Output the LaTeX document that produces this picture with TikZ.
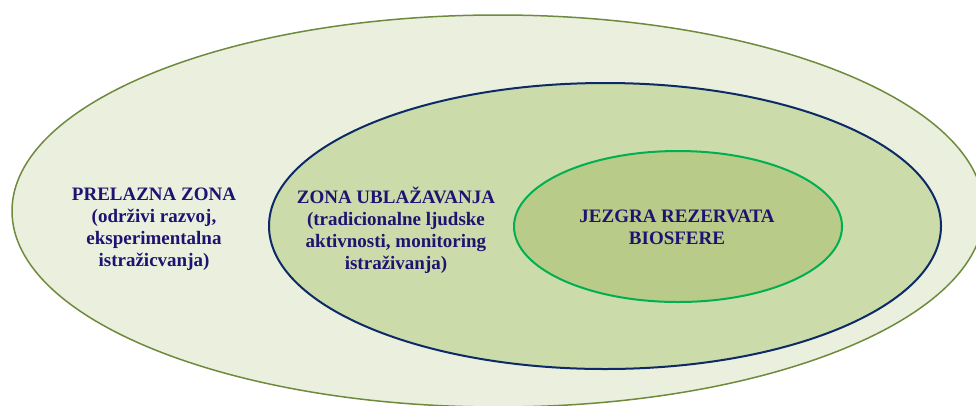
\documentclass[tikz,border=0pt]{standalone}
\usepackage{fontspec}
\setmainfont{Liberation Serif}
\usepackage{tikz}
\usetikzlibrary{positioning}
\usetikzlibrary{shapes.geometric}
\definecolor{outerfill}{HTML}{EBEFDE}
\definecolor{outerline}{HTML}{6E8B3D}
\definecolor{midfill}{HTML}{CCDBAA}
\definecolor{midline}{HTML}{0C2A66}
\definecolor{corefill}{HTML}{B8CB88}
\definecolor{coreline}{HTML}{00B050}
\definecolor{zonetext}{HTML}{1C1470}
\tikzstyle{zone} = [ellipse, inner sep=0pt, outer sep=0pt]
\tikzstyle{zonelabel} = [align=center, text=zonetext, font=\fontsize{19}{22}\selectfont\bfseries]

\begin{document}
\begin{tikzpicture}[x=1pt, y=-1pt]
			\useasboundingbox (0,0) rectangle (976,405);
			\clip (0,0) rectangle (976,405);
			\node (transition) [zone, draw=outerline, fill=outerfill, line width=1.5pt, minimum width=972pt, minimum height=392pt] at (498,211) {};
			\node (buffer) [zone, draw=midline, fill=midfill, line width=2pt, minimum width=672pt, minimum height=286pt] at (605,226) {};
			\node (core) [zone, draw=coreline, fill=corefill, line width=2pt, minimum width=328pt, minimum height=151pt] at (678,226.5) {};
			\node (transtext) [zonelabel] at (154,229) {PRELAZNA ZONA\\(održivi razvoj,\\eksperimentalna\\istražicvanja)};
			\node (buffertext) [zonelabel] at (396,230) {ZONA UBLAŽAVANJA\\(tradicionalne ljudske\\aktivnosti, monitoring\\istraživanja)};
			\node (coretext) [zonelabel] at (677,227) {JEZGRA REZERVATA\\BIOSFERE};
		\end{tikzpicture}
\end{document}
